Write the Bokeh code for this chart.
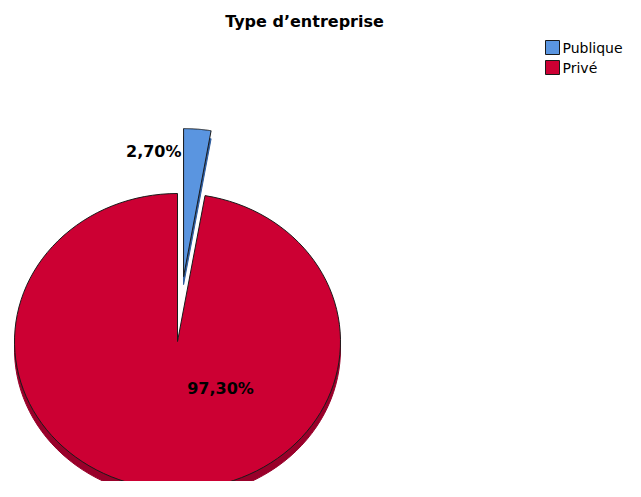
import numpy as np
from bokeh.plotting import figure
from bokeh.models import Range1d
from bokeh.core.properties import value
from bokeh.embed import file_html
from bokeh.resources import INLINE

# ---- data ----
title_text = "Type d\u2019entreprise"
categories = ["Publique", "Priv\u00e9"]
percentages = [2.70, 97.30]
labels = ["2,70%", "97,30%"]

# ---- style ----
face_colors = ["#5A95E0", "#CC0033"]
rim_colors = ["#2E5C9E", "#99002A"]
W, H = 625, 481
CX, CY = 177, 341          # pie centre in picture pixels
RX, RY = 163, 148          # ellipse radii
DEPTH = 8
EXPLODE = [0.44, 0.0]
FONT = "DejaVu Sans"

p = figure(width=W, height=H, output_backend="svg", toolbar_location=None,
           x_range=Range1d(0, W), y_range=Range1d(H, 0),
           min_border=0)
p.axis.visible = False
p.grid.visible = False
p.outline_line_color = None
p.background_fill_color = "white"


def wedge(a0, a1, cx, cy, n=120):
    t = np.linspace(a0, a1, n)
    xs = np.concatenate([[cx], cx + RX * np.sin(t), [cx]])
    ys = np.concatenate([[cy], cy - RY * np.cos(t), [cy]])
    return list(xs), list(ys)


fracs = np.array(percentages) / sum(percentages)
ends = np.cumsum(fracs) * 2 * np.pi
starts = ends - fracs * 2 * np.pi
centres = []
for i in range(len(categories)):
    mid = (starts[i] + ends[i]) / 2
    cx = CX + EXPLODE[i] * RX * np.sin(mid)
    cy = CY - EXPLODE[i] * RY * np.cos(mid)
    centres.append((cx, cy))

# rims (depth) first
for i in range(len(categories)):
    cx, cy = centres[i]
    xs, ys = wedge(starts[i], ends[i], cx, cy + DEPTH)
    p.patch(xs, ys, fill_color=rim_colors[i], line_color=rim_colors[i], line_width=1)

# faces
for i in range(len(categories)):
    cx, cy = centres[i]
    xs, ys = wedge(starts[i], ends[i], cx, cy)
    p.patch(xs, ys, fill_color=face_colors[i], line_color="#1a1a1a", line_width=1)

# value labels
p.text(x=[181], y=[151], text=[labels[0]], text_align="right", text_baseline="middle",
       text_font=value(FONT), text_font_style="bold", text_font_size="16px", text_color="black")
p.text(x=[220], y=[388], text=[labels[1]], text_align="center", text_baseline="middle",
       text_font=value(FONT), text_font_style="bold", text_font_size="16px", text_color="black")

# title
p.text(x=[304], y=[21], text=[title_text], text_align="center", text_baseline="middle",
       text_font=value(FONT), text_font_style="bold", text_font_size="16px", text_color="black")

# legend
p.rect(x=[552, 552], y=[47, 67], width=14, height=14, fill_color=face_colors,
       line_color="#1a1a1a", line_width=1)
p.text(x=[562, 562], y=[47, 67], text=categories, text_align="left", text_baseline="middle",
       text_font=value(FONT), text_font_size="14px", text_color="black")

open("out.html", "w").write(file_html(p, INLINE))
